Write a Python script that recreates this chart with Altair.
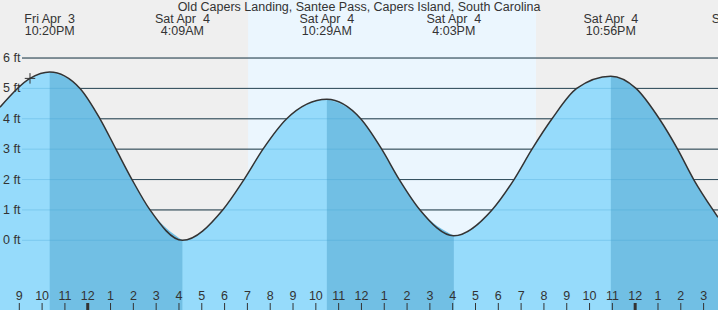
import altair as alt
import pandas as pd

TITLE = "Old Capers Landing, Santee Pass, Capers Island, South Carolina"

# hours counted from Fri Apr 3, 9 PM
curve_hours = [-0.846, 0.469, 1.333, 2.661, 3.538, 4.239, 4.941, 5.730, 7.15,
               8.917, 9.851, 10.684, 11.723, 13.483, 14.967, 15.888,
               16.659, 17.567, 19.05, 20.723, 21.688, 22.477, 23.354, 24.437,
               25.933, 27.036, 28.058, 28.86, 29.566, 30.412, 30.631]
curve_ft = [4.38, 5.33, 5.54, 5.0, 4.0, 3.0, 2.0, 1.0, 0.0,
            1.0, 2.0, 3.0, 4.0, 4.64, 4.0, 3.0,
            2.0, 1.0, 0.15, 1.0, 2.0, 3.0, 4.0, 5.0,
            5.40, 5.0, 4.0, 3.0, 2.0, 1.0, 0.76]

falling_start = [1.333, 13.483, 25.933]
falling_end = [7.15, 19.05, 30.631]

event_hours = [1.333, 7.15, 13.483, 19.05, 25.933, 31.64]
event_day = ["Fri Apr\u00a0 3", "Sat Apr\u00a0 4", "Sat Apr\u00a0 4", "Sat Apr\u00a0 4",
             "Sat Apr\u00a0 4", "Sun Apr\u00a0 5"]
event_time = ["10:20PM", "4:09AM", "10:29AM", "4:03PM", "10:56PM", "4:38AM"]

hour_labels = ["9", "10", "11", "12", "1", "2", "3", "4", "5", "6", "7", "8", "9", "10", "11",
               "12", "1", "2", "3", "4", "5", "6", "7", "8", "9", "10", "11", "12", "1", "2", "3"]
midnight_hours = [3, 27]

day_start = [10.03]
day_end = [22.65]

grid_ft = [0, 1, 2, 3, 4, 5, 6]
grid_labels = ["0 ft", "1 ft", "2 ft", "3 ft", "4 ft", "5 ft", "6 ft"]

now_hour = [0.469]
now_ft = [5.33]

FONT = "Liberation Sans"
FS = 12.5
TXT = "#333333"

xs = alt.Scale(domain=[-0.846, 30.631], nice=False, zero=False)
ys = alt.Scale(domain=[-2.294, 7.910], nice=False, zero=False)

curve = pd.DataFrame({"h": curve_hours, "ft": curve_ft})
segs = []
for i, (a, b) in enumerate(zip(falling_start, falling_end)):
    s = curve[(curve.h >= a - 1e-6) & (curve.h <= b + 1e-6)].copy()
    s["seg"] = i
    segs.append(s)
falling = pd.concat(segs)

day = pd.DataFrame({"a": day_start, "b": day_end})
grid = pd.DataFrame({"ft": grid_ft, "lab": grid_labels})
ticks = pd.DataFrame({"h": list(range(len(hour_labels))), "lab": hour_labels})
ticks["w"] = [3 if k in midnight_hours else 1 for k in ticks.h]
events = pd.DataFrame({"h": event_hours, "d": event_day, "t": event_time})
now = pd.DataFrame({"h": now_hour, "ft": now_ft})
title = pd.DataFrame({"t": [TITLE]})


def X(f):
    return alt.X(f, scale=xs, axis=None)


def Y(f):
    return alt.Y(f, scale=ys, axis=None, stack=None)


day_rect = alt.Chart(day).mark_rect(color="#ebf6fe").encode(
    x=X("a:Q"), x2="b:Q", y=alt.value(0), y2=alt.value(310))

dark_grid = alt.Chart(grid[grid.ft > 0]).mark_rule(color="#2a2a2a", strokeWidth=1).encode(
    y=Y("ft:Q"), x=alt.value(22), x2=alt.value(718))

water = alt.Chart(curve).mark_area(interpolate="monotone", color="#96dbfb", opacity=1).encode(
    x=X("h:Q"), y=Y("ft:Q"), y2=alt.value(310))

water_dark = alt.Chart(falling).mark_area(interpolate="monotone", color="#71bfe4", opacity=1).encode(
    x=X("h:Q"), y=Y("ft:Q"), y2=alt.value(310), detail="seg:N")

light_grid = alt.Chart(grid).mark_rule(color="#3a9fd0", strokeWidth=1, opacity=0.3).encode(
    y=Y("ft:Q"), x=alt.value(22), x2=alt.value(718))

line = alt.Chart(curve).mark_line(interpolate="monotone", color="#333333", strokeWidth=1.5).encode(
    x=X("h:Q"), y=Y("ft:Q"))

plus = alt.Chart(now).mark_point(shape="M -1 0 L 1 0 M 0 -1 L 0 1", filled=False,
                                 color="#333333", strokeWidth=1, size=110, opacity=1).encode(
    x=X("h:Q"), y=Y("ft:Q"))

ylab = alt.Chart(grid).mark_text(align="left", baseline="middle", font=FONT, fontSize=FS,
                                 color=TXT).encode(
    x=alt.value(3), y=Y("ft:Q"), text="lab:N")

hour_txt = alt.Chart(ticks).mark_text(align="center", baseline="alphabetic", font=FONT,
                                      fontSize=FS, color=TXT).encode(
    x=X("h:Q"), y=alt.value(300), text="lab:N")

hour_tick = alt.Chart(ticks).mark_rule(color="#333333").encode(
    x=X("h:Q"), y=alt.value(303), y2=alt.value(310),
    strokeWidth=alt.StrokeWidth("w:Q", scale=None))

ev1 = alt.Chart(events).mark_text(align="center", baseline="alphabetic", font=FONT, fontSize=FS,
                                  color=TXT).encode(x=X("h:Q"), y=alt.value(22.5), text="d:N")
ev2 = alt.Chart(events).mark_text(align="center", baseline="alphabetic", font=FONT, fontSize=FS,
                                  color=TXT).encode(x=X("h:Q"), y=alt.value(35), text="t:N")

ttl = alt.Chart(title).mark_text(align="center", baseline="alphabetic", font=FONT, fontSize=FS,
                                 color=TXT).encode(x=alt.value(359), y=alt.value(10.5), text="t:N")

chart = alt.layer(day_rect, dark_grid, water, water_dark, light_grid, line, plus,
                  ylab, hour_txt, hour_tick, ev1, ev2, ttl).properties(
    width=718, height=310, padding=0, autosize=alt.AutoSizeParams(type="none"),
    background="#efefef"
).configure_view(stroke=None)

chart.save("out.html", embed_options={"renderer": "svg", "actions": False})
